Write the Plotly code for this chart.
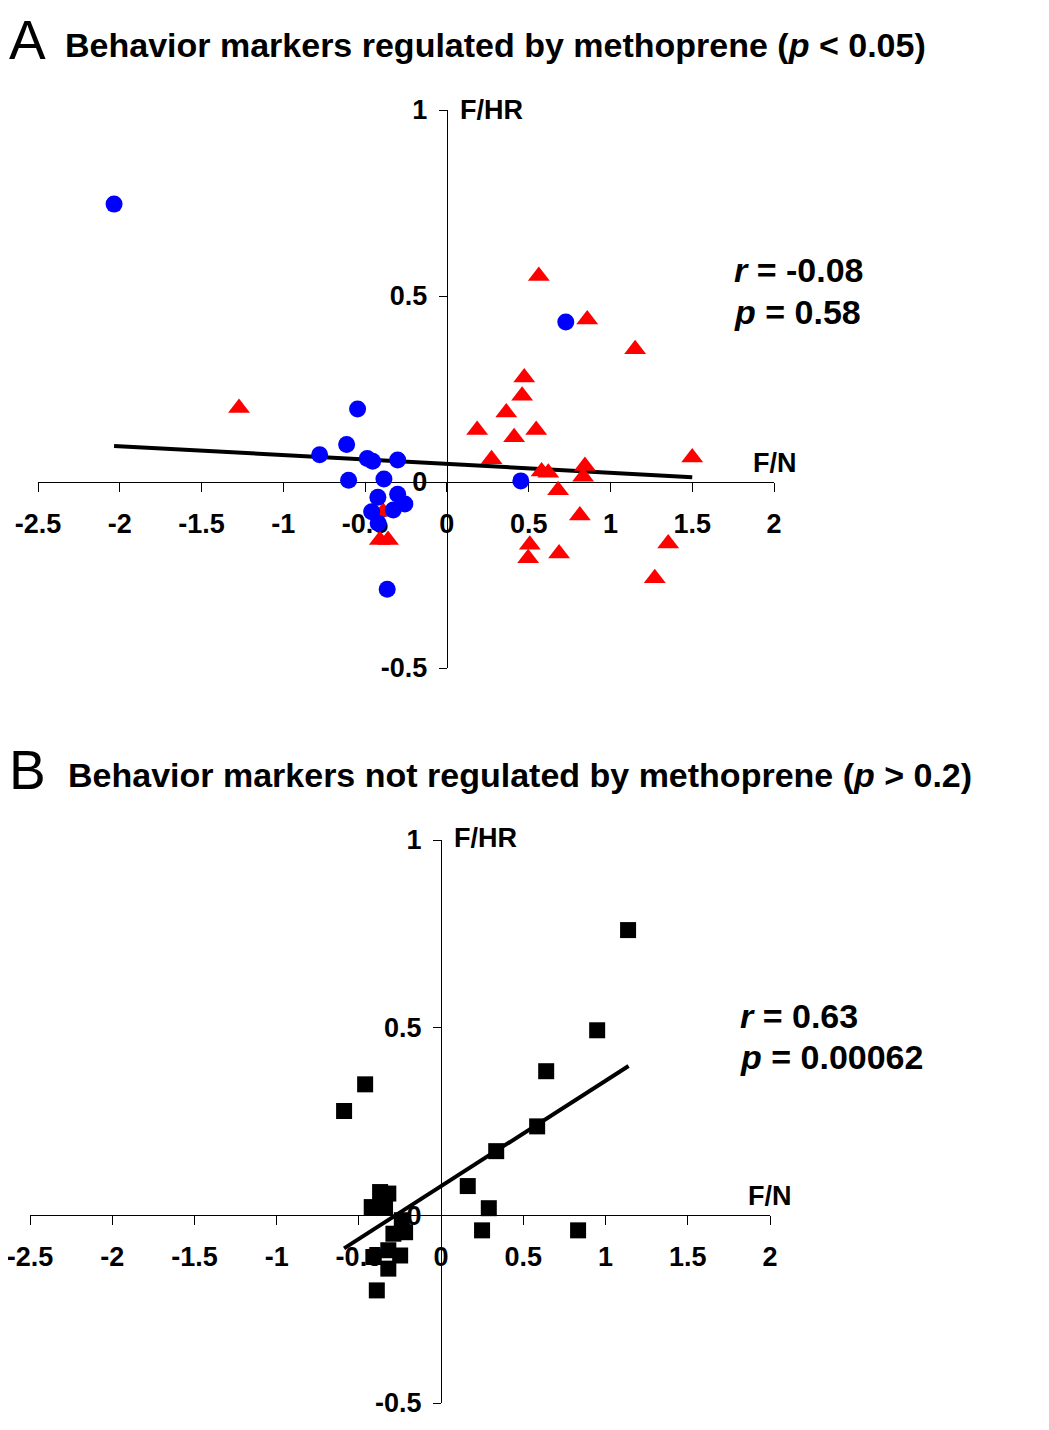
import plotly.graph_objects as go

# Panel A - behavior markers regulated by methoprene
blue_x = [-2.035, -0.546, -0.613, -0.778, -0.487, -0.454, -0.301, -0.601, -0.385,
          -0.422, -0.301, -0.257, -0.328, -0.46, -0.42, -0.365, 0.727, 0.452]
blue_y = [0.747, 0.196, 0.101, 0.073, 0.063, 0.056, 0.059, 0.005, 0.008,
          -0.041, -0.033, -0.059, -0.075, -0.08, -0.111, -0.288, 0.43, 0.003]

red_x = [0.562, 0.858, 1.151, 0.473, 0.46, 0.363, 0.185, 0.546, 0.411, 0.273, 1.5,
         0.579, 0.62, 0.844, 0.833, 0.68, 0.813, 0.507, 0.497, 0.686, 1.353, 1.271,
         -1.271, -0.39, -0.41, -0.36]
red_y = [0.554, 0.437, 0.357, 0.281, 0.232, 0.187, 0.14, 0.14, 0.12, 0.061, 0.066,
         0.028, 0.025, 0.043, 0.014, -0.022, -0.09, -0.169, -0.205, -0.192, -0.165, -0.259,
         0.199, -0.08, -0.156, -0.156]

fit_a_x = [-2.035, 1.5]
fit_a_y = [0.097, 0.013]

# Panel B - behavior markers not regulated by methoprene
sq_x = [1.137, 0.949, 0.639, 0.584, 0.335, 0.162, 0.29, 0.249, 0.833, -0.462, -0.59,
        -0.371, -0.321, -0.422, -0.341, -0.239, -0.219, -0.29, -0.249, -0.412, -0.321,
        -0.321, -0.391]
sq_y = [0.76, 0.493, 0.384, 0.237, 0.171, 0.078, 0.019, -0.04, -0.04, 0.349, 0.278,
        0.062, 0.058, 0.022, 0.022, -0.013, -0.045, -0.049, -0.107, -0.111, -0.093,
        -0.142, -0.2]

fit_b_x = [-0.59, 1.14]
fit_b_y = [-0.088, 0.398]

x_ticks = [-2.5, -2, -1.5, -1, -0.5, 0, 0.5, 1, 1.5, 2]
x_labels = ["-2.5", "-2", "-1.5", "-1", "-0.5", "0", "0.5", "1", "1.5", "2"]
y_ticks = [-0.5, 0, 0.5, 1]
y_labels = ["-0.5", "0", "0.5", "1"]

W, H = 1049, 1430
OFF = 8  # page body margin of the html page
FONT = "Liberation Sans"
x_range = [-2.5, 2]
y_range = [-0.5, 1]


def px_x(px):
    return (px - OFF) / W


def px_y(py):
    return 1 - (py - OFF) / H


# plot areas (pixels) -> paper domains
dom_ax = [px_x(38), px_x(774)]
dom_ay = [px_y(668), px_y(110)]
dom_bx = [px_x(30), px_x(770)]
dom_by = [px_y(1403), px_y(840)]


def zero_pos(dom, rng):
    return dom[0] + (0 - rng[0]) / (rng[1] - rng[0]) * (dom[1] - dom[0])


fig = go.Figure()
fig.add_trace(go.Scatter(x=fit_a_x, y=fit_a_y, mode="lines", line=dict(color="black", width=4),
                         xaxis="x", yaxis="y"))
fig.add_trace(go.Scatter(x=red_x, y=red_y, mode="markers",
                         marker=dict(symbol="triangle-up", size=19, color="#ff0000"),
                         xaxis="x", yaxis="y"))
fig.add_trace(go.Scatter(x=blue_x, y=blue_y, mode="markers",
                         marker=dict(symbol="circle", size=17, color="#0000ff"),
                         xaxis="x", yaxis="y"))
fig.add_trace(go.Scatter(x=sq_x, y=sq_y, mode="markers",
                         marker=dict(symbol="square", size=16, color="black"),
                         xaxis="x2", yaxis="y2"))
fig.add_trace(go.Scatter(x=fit_b_x, y=fit_b_y, mode="lines", line=dict(color="black", width=4),
                         xaxis="x2", yaxis="y2"))

ax_common = dict(showline=True, linecolor="black", linewidth=1.3, ticks="outside",
                 tickcolor="black", tickwidth=1.3, showgrid=False, zeroline=False,
                 layer="below traces", automargin=False, ticklabeloverflow="allow",
                 tickfont=dict(family=FONT, size=27, color="black", weight="bold"))
xa = dict(ax_common, range=x_range, tickvals=x_ticks, ticktext=x_labels, ticklen=9,
          anchor="free", ticklabelstandoff=8)
ya = dict(ax_common, range=y_range, tickvals=y_ticks, ticktext=y_labels, ticklen=8,
          anchor="free", ticklabelstandoff=6)

fig.update_layout(
    width=W, height=H, autosize=False,
    margin=dict(l=0, r=0, t=0, b=0, autoexpand=False),
    paper_bgcolor="white", plot_bgcolor="rgba(0,0,0,0)",
    showlegend=False,
    font=dict(family=FONT, color="black"),
    xaxis=dict(xa, domain=dom_ax, position=zero_pos(dom_ay, y_range)),
    yaxis=dict(ya, domain=dom_ay, position=zero_pos(dom_ax, x_range)),
    xaxis2=dict(xa, domain=dom_bx, position=zero_pos(dom_by, y_range)),
    yaxis2=dict(ya, domain=dom_by, position=zero_pos(dom_bx, x_range)),
)


def label(px, py, text, size, bold=True):
    fig.add_annotation(xref="paper", yref="paper", x=max(px_x(px), 0), y=px_y(py), text=text,
                       showarrow=False, xanchor="left", yanchor="middle", borderpad=0,
                       font=dict(family=FONT, size=size, color="black",
                                 weight="bold" if bold else "normal"))


# panel letters and titles
label(8, 40, "A", 55, bold=False)
label(64, 45, "Behavior markers regulated by methoprene (<i>p</i> &lt; 0.05)", 34)
label(8, 770, "B", 55, bold=False)
label(67, 775, "Behavior markers not regulated by methoprene (<i>p</i> &gt; 0.2)", 34)

# axis names
label(459, 110, "F/HR", 27)
label(752, 463, "F/N", 27)
label(453, 838, "F/HR", 27)
label(747, 1196, "F/N", 27)

# statistics
label(733, 270, "<i>r</i> = -0.08", 34)
label(733, 312, "<i>p</i> = 0.58", 34)
label(739, 1016, "<i>r</i> = 0.63", 34)
label(739, 1057, "<i>p</i> = 0.00062", 34)

fig.write_html("out.html")
